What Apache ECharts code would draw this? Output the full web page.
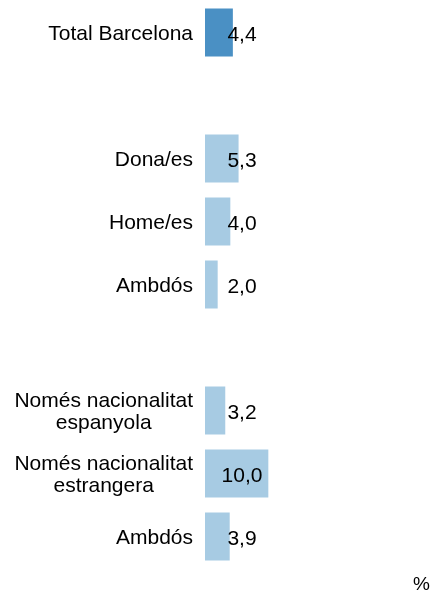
<!DOCTYPE html>
<html>
<head>
<meta charset="utf-8">
<script src="https://cdn.jsdelivr.net/npm/echarts@6/dist/echarts.min.js"></script>
<style>
html,body{margin:0;padding:0;background:#fff;}
#chart{width:437px;height:594px;}
</style>
</head>
<body>
<div id="chart"></div>
<script>
const categories = ['Total Barcelona', '', 'Dona/es', 'Home/es', 'Ambdós', ' ', 'Només nacionalitat\nespanyola', 'Només nacionalitat\nestrangera', 'Ambdós'];
const values = [4.4, null, 5.3, 4.0, 2.0, null, 3.2, 10.0, 3.9];
const highlightIndex = 0;
const unitLabel = '%';

const chart = echarts.init(document.getElementById('chart'), null, {renderer: 'canvas'});
const font = '"Liberation Sans", Arial, sans-serif';
chart.setOption({
  animation: false,
  grid: {left: 205, top: 1, width: 190, height: 567},
  xAxis: {type: 'value', min: 0, max: 30, show: false},
  yAxis: {
    type: 'category',
    inverse: true,
    data: categories,
    axisLine: {show: false},
    axisTick: {show: false},
    splitLine: {show: false},
    axisLabel: {
      margin: 12,
      fontSize: 21,
      lineHeight: 22,
      color: '#000',
      fontFamily: font,
      align: 'right',
      padding: [3, 0, 0, 0],
      formatter: v => v.split('\n').map(s => '{c|' + s + '}').join('\n'),
      rich: {
        c: {align: 'center', fontSize: 21, lineHeight: 22, color: '#000', fontFamily: font}
      }
    }
  },
  series: [{
    type: 'bar',
    barWidth: 48,
    data: values.map((v, i) => v == null ? null : {
      value: v,
      itemStyle: {color: i === highlightIndex ? '#4a90c4' : '#a7cbe3'}
    }),
    label: {
      show: true,
      position: [37, 27],
      align: 'center',
      verticalAlign: 'middle',
      fontSize: 21,
      color: '#000',
      fontFamily: font,
      formatter: p => p.value.toFixed(1).replace('.', ',')
    }
  }],
  graphic: [{
    type: 'text',
    x: 421.5,
    y: 585,
    style: {text: unitLabel, fill: '#000', font: '19px "Liberation Sans", Arial, sans-serif', align: 'center', verticalAlign: 'middle'}
  }]
});
</script>
</body>
</html>
